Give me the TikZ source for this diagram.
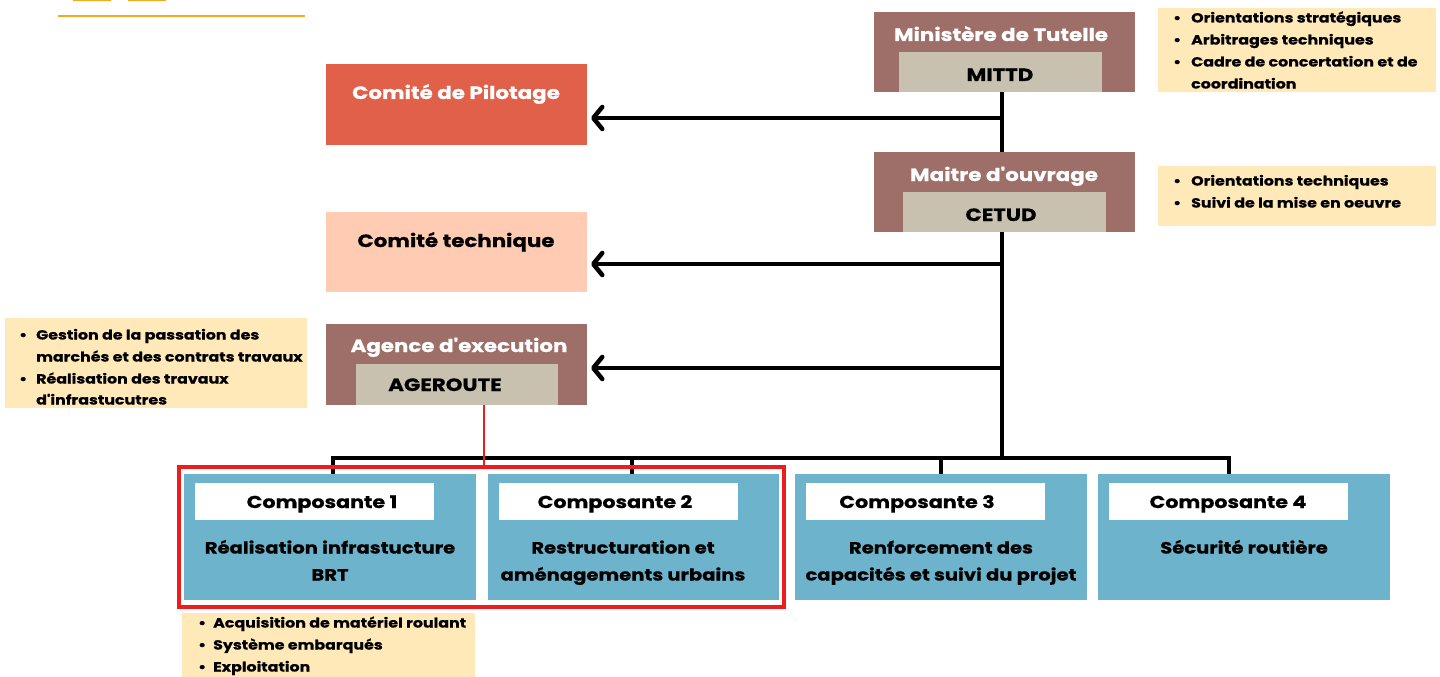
\documentclass[tikz,border=0pt]{standalone}
\usepackage{fontspec}
\setmainfont{Poppins}[Ligatures=TeXOff, FakeStretch=1.2, BoldFeatures={FakeBold=0.7}]
\usetikzlibrary{arrows.meta}
\definecolor{brownbox}{HTML}{9E6F68}
\definecolor{innerbox}{HTML}{C8C1B0}
\definecolor{pilotc}{HTML}{E0604A}
\definecolor{techc}{HTML}{FFCCB3}
\definecolor{compblue}{HTML}{6DB3CB}
\definecolor{notec}{HTML}{FFE9B8}
\definecolor{redframe}{HTML}{EE1C1C}
\definecolor{orangeline}{HTML}{F7A823}
\begin{document}
\begin{tikzpicture}[x=1pt,y=-1pt,
  rbox/.style={rectangle, inner sep=0pt, outer sep=0pt, anchor=north west, draw=none},
  titlew/.style={anchor=base, inner sep=0pt, text=white, font=\fontsize{17.8}{20}\selectfont\bfseries},
  titleb/.style={anchor=base, inner sep=0pt, text=black, font=\fontsize{17.8}{20}\selectfont\bfseries},
  complabel/.style={anchor=base, inner sep=0pt, text=black, font=\fontsize{17.2}{20}\selectfont\bfseries},
  desc/.style={anchor=base, inner sep=0pt, text=black, align=center, font=\fontsize{16.3}{27}\selectfont\bfseries},
  noteline/.style={anchor=base west, inner sep=0pt, text=black, font=\fontsize{13.2}{16}\selectfont\bfseries},
  conn/.style={line width=4.5pt, black},
  arr/.style={conn, -{Straight Barb[length=9pt,width=22pt,round]}, shorten >=4pt},
]
\useasboundingbox (0,0) rectangle (1440,677);

% top-left orange decorations
\fill[orangeline] (73,0) rectangle (111,1.5);
\fill[orangeline] (128,0) rectangle (166,1.5);
\fill[orangeline] (58,14.8) rectangle (305,17);

% note backgrounds
\node[rbox, fill=notec, minimum width=278pt, minimum height=84pt] (note1) at (1158,8) {};
\node[rbox, fill=notec, minimum width=278pt, minimum height=60pt] (note2) at (1158,166) {};
\node[rbox, fill=notec, minimum width=302pt, minimum height=90pt] (note3) at (5,318) {};
\node[rbox, fill=notec, minimum width=293pt, minimum height=64pt] (note4) at (182,613) {};

% note texts
\newcommand{\bul}{\makebox[18pt][l]{\textbullet}}
\newcommand{\bulb}{\makebox[17pt][l]{\textbullet}}
\newcommand{\bulc}{\makebox[15pt][l]{\textbullet}}
\node[noteline] (n1a) at (1173,22.5) {\bul Orientations stratégiques};
\node[noteline] (n1b) at (1173,44.5) {\bul Arbitrages techniques};
\node[noteline] (n1c) at (1173,66.5) {\bul Cadre de concertation et de};
\node[noteline] (n1d) at (1191,88.5) {coordination};
\node[noteline] (n2a) at (1173,185.5) {\bul Orientations techniques};
\node[noteline] (n2b) at (1173,207.5) {\bul Suivi de la mise en oeuvre};
\node[noteline] (n3a) at (19,339.5) {\bulb Gestion de la passation des};
\node[noteline] (n3b) at (36,361.5) {marchés et des contrats travaux};
\node[noteline] (n3c) at (19,383.5) {\bulb Réalisation des travaux};
\node[noteline] (n3d) at (36,404.5) {d'infrastucutres};
\node[noteline] (n4a) at (198,627.5) {\bulc Acquisition de matériel roulant};
\node[noteline] (n4b) at (198,649.5) {\bulc Système embarqués};
\node[noteline] (n4c) at (198,671.5) {\bulc Exploitation};

% junction coordinates
\coordinate (j1) at (1002,118);
\coordinate (j2) at (1002,264);
\coordinate (j3) at (1002,368);
\coordinate (bus) at (1002,458);
\coordinate (b1) at (333,458);
\coordinate (b2) at (632,458);
\coordinate (b3) at (941,458);
\coordinate (b4) at (1229,458);

% boxes
\node[rbox, fill=brownbox, minimum width=261pt, minimum height=80pt] (mint) at (874,12) {};
\node[rbox, fill=innerbox, minimum width=203pt, minimum height=40pt] (mittd) at (899,52) {};
\node[rbox, fill=brownbox, minimum width=261pt, minimum height=80pt] (moa) at (874,152) {};
\node[rbox, fill=innerbox, minimum width=203pt, minimum height=40pt] (cetud) at (903,192) {};
\node[rbox, fill=pilotc, minimum width=261pt, minimum height=81pt] (pilot) at (326,64) {};
\node[rbox, fill=techc, minimum width=261pt, minimum height=80pt] (tech) at (326,212) {};
\node[rbox, fill=brownbox, minimum width=261pt, minimum height=81pt] (agence) at (326,324) {};
\node[rbox, fill=innerbox, minimum width=202pt, minimum height=41pt] (ageroute) at (356,364) {};

\draw[conn] (mittd.south -| j1) -- (moa.north -| j1);
\draw[conn] (cetud.south -| j1) -- (bus);
\draw[arr] (j1) -- (pilot.east |- j1);
\draw[arr] (j2) -- (tech.east |- j2);
\draw[arr] (j3) -- (agence.east |- j3);
\draw[conn, line cap=rect] (b1) -- (b4);

\node[titlew] (tmint) at (1001,41) {Ministère de Tutelle};
\node[titleb] (tmittd) at (1000,81) {MITTD};
\node[titlew] (tmoa) at (1004,181) {Maitre d'ouvrage};
\node[titleb] (tcetud) at (1001,221) {CETUD};
\node[titlew] (tpilot) at (456,99) {Comité de Pilotage};
\node[titleb] (ttech) at (456,247) {Comité technique};
\node[titlew] (tagence) at (459,352) {Agence d'execution};
\node[titleb] (tageroute) at (445,391) {AGEROUTE};

% components
\node[rbox, fill=compblue, minimum width=292pt, minimum height=126pt] (c1) at (184,474) {};
\node[rbox, fill=compblue, minimum width=291pt, minimum height=126pt] (c2) at (488,474) {};
\node[rbox, fill=compblue, minimum width=292pt, minimum height=126pt] (c3) at (795,474) {};
\node[rbox, fill=compblue, minimum width=292pt, minimum height=126pt] (c4) at (1098,474) {};
\draw[conn] (b1) -- (b1 |- c1.north);
\draw[conn] (b2) -- (b2 |- c2.north);
\draw[conn] (b3) -- (b3 |- c3.north);
\draw[conn] (b4) -- (b4 |- c4.north);

\node[rbox, fill=white, minimum width=239pt, minimum height=37pt] (w1) at (195,483) {};
\node[rbox, fill=white, minimum width=239pt, minimum height=37pt] (w2) at (499,483) {};
\node[rbox, fill=white, minimum width=239pt, minimum height=37pt] (w3) at (806,483) {};
\node[rbox, fill=white, minimum width=239pt, minimum height=37pt] (w4) at (1109,483) {};
\node[complabel] (k1) at (322,508) {Composante 1};
\node[complabel] (k2) at (615,508) {Composante 2};
\node[complabel] (k3) at (917,508) {Composante 3};
\node[complabel] (k4) at (1228,508) {Composante 4};

\node[desc] (d1) at (330,580.5) {Réalisation infrastucture\\BRT};
\node[desc] (d2) at (623,580.5) {Restructuration et\\aménagements urbains};
\node[desc] (d3) at (941,580.5) {Renforcement des\\capacités et suivi du projet};
\node[desc] (d4) at (1244,553.5) {Sécurité routière};

% red frame
\node[rbox, draw=redframe, line width=4pt, minimum width=605pt, minimum height=140pt] (frame) at (179,467) {};
\draw[redframe, line width=2.5pt] (ageroute.south -| 484,0) -- (frame.north -| 484,0);
\end{tikzpicture}
\end{document}
